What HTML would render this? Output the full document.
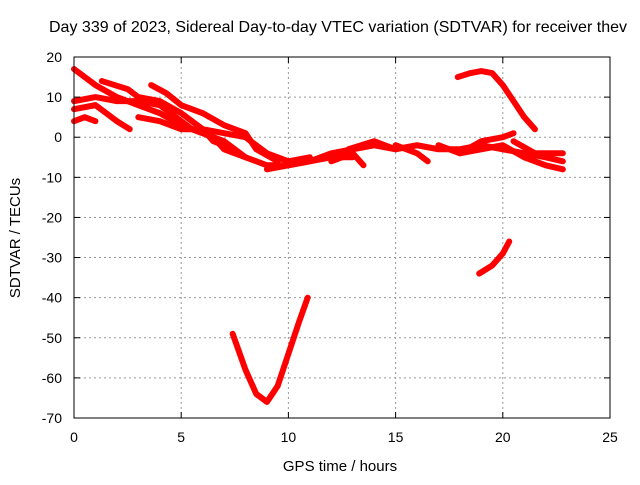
<!DOCTYPE html>
<html><head><meta charset="utf-8"><style>
body{margin:0;background:#fff}
svg text{font-family:"Liberation Sans",sans-serif;font-size:14px;fill:#000}
</style></head><body>
<svg id="chart" width="640" height="480" viewBox="0 0 640 480" xmlns="http://www.w3.org/2000/svg">
<rect width="640" height="480" fill="#fff"/>
<g id="grid"></g>
<g id="series"></g>
<rect x="74" y="57" width="536" height="361" fill="none" stroke="#000" stroke-width="1"/>
<g id="ticks"></g>
<text x="338" y="32" text-anchor="middle" style="font-size:16px" textLength="578" lengthAdjust="spacingAndGlyphs">Day 339 of 2023, Sidereal Day-to-day VTEC variation (SDTVAR) for receiver thev</text>
<text x="340" y="471" text-anchor="middle" style="font-size:15px">GPS time / hours</text>
<text transform="translate(20,238) rotate(-90)" text-anchor="middle" style="font-size:15px">SDTVAR / TECUs</text>
</svg>
<script>
const xTicks=[0,5,10,15,20,25];
const yTicks=[20,10,0,-10,-20,-30,-40,-50,-60,-70];
const arc1=[[0,17],[1,13],[2,10],[3,8],[4,6],[5,3],[6,1],[7,-1],[8,-5],[9,-7],[10,-7],[11,-6],[12,-5],[13,-5]];
const arc2=[[0,9],[1,10],[2,9],[3,9],[4,8],[4.5,6],[5.5,2],[6.5,0],[7,-3],[8,-5]];
const arc3=[[0,7],[1,8],[1.5,6],[2,4],[2.6,2]];
const arc4=[[0,4],[0.5,5],[1,4]];
const arc5=[[1.3,14],[2.5,12],[3,10],[4,9],[5,6],[6,2],[6.5,-1],[7.5,-3]];
const arc6=[[3.6,13],[4.3,11],[5,8],[6,6],[7,3],[8,1],[8.5,-3],[9.5,-6]];
const arc7=[[3,5],[4,4],[5,2],[6,2],[7,1],[8,0],[9,-4],[10,-6],[11,-5]];
const arc8=[[9,-8],[10,-7],[11,-6],[12,-4],[13,-3],[14,-2],[15,-3],[16,-2],[17,-3],[18,-3],[19,-2],[20,-3],[21,-4],[22,-5],[22.8,-6]];
const arc9=[[12,-6],[13,-4],[13.5,-7]];
const arc10=[[15,-2],[16,-4],[16.5,-6]];
const arc11=[[17,-2],[18,-4],[19,-3],[20,-2],[21,-5],[22,-7],[22.8,-8]];
const arc12=[[18,-4],[19,-1],[20,0],[20.5,1]];
const arc13=[[12.8,-3],[14,-1],[15,-3]];
const arc14=[[20.5,-1],[21.5,-4],[22.8,-4]];
const arc15=[[17.9,15],[18.5,16],[19,16.5],[19.5,16],[20,13],[20.5,9],[21,5],[21.5,2]];
const arc16=[[18.9,-34],[19.5,-32],[20,-29],[20.3,-26]];
const arc17=[[7.4,-49],[8,-58],[8.5,-64],[9,-66],[9.5,-62],[10,-54],[10.5,-46],[10.9,-40]];
const allArcs=[arc1,arc2,arc3,arc4,arc5,arc6,arc7,arc8,arc9,arc10,arc11,arc12,arc13,arc14,arc15,arc16,arc17];
const NS="http://www.w3.org/2000/svg";
const X=v=>74+v*536/25;
const Y=v=>57+(20-v)*361/90;
const grid=document.getElementById('grid'),ticks=document.getElementById('ticks'),ser=document.getElementById('series');
function mk(tag,attrs,parent){const e=document.createElementNS(NS,tag);for(const k in attrs)e.setAttribute(k,attrs[k]);parent.appendChild(e);return e;}
xTicks.forEach(t=>{
 const x=X(t);
 if(t>0&&t<25){const g=mk('line',{x1:x,x2:x,y1:57,y2:418,stroke:'#999','stroke-dasharray':'2,3'},grid);
 
 }
 mk('line',{x1:x,x2:x,y1:418,y2:412,stroke:'#000'},ticks);
 mk('line',{x1:x,x2:x,y1:57,y2:63,stroke:'#000'},ticks);
 const l=mk('text',{x:x,y:442,'text-anchor':'middle'},ticks);l.textContent=t;
 
 
});
yTicks.forEach(t=>{
 const y=Y(t);
 if(t<20&&t>-70){const g=mk('line',{x1:74,x2:610,y1:y,y2:y,stroke:'#999','stroke-dasharray':'2,3'},grid);
 
 }
 mk('line',{x1:74,x2:80,y1:y,y2:y,stroke:'#000'},ticks);
 mk('line',{x1:610,x2:604,y1:y,y2:y,stroke:'#000'},ticks);
 const l=mk('text',{x:62,y:y+5,'text-anchor':'end'},ticks);l.textContent=t;
 
 
});
allArcs.forEach((a,i)=>{
 const p=mk('polyline',{points:a.map(d=>X(d[0])+','+Y(d[1])).join(' '),fill:'none',stroke:'#f00','stroke-width':6,'stroke-linejoin':'round','stroke-linecap':'round'},ser);
 
 
});
</script>
</body></html>
